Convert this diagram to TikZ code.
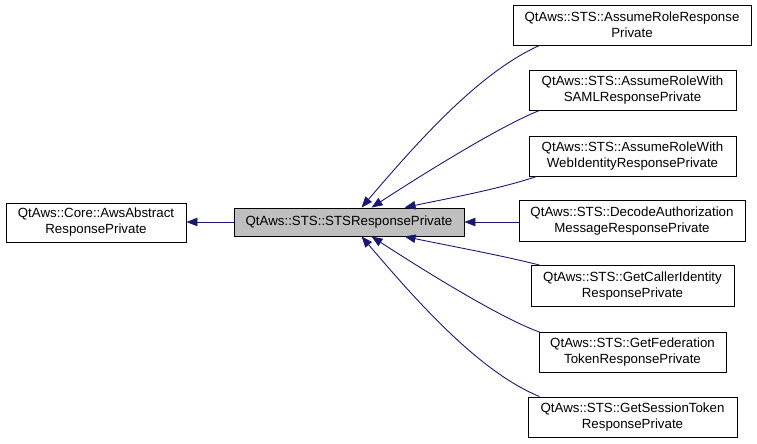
\documentclass[tikz,border=0pt]{standalone}
\usepackage{fontspec}
\setmainfont{Liberation Sans}
\usetikzlibrary{arrows.meta}
\definecolor{edgeblue}{HTML}{191970}
\definecolor{boxgray}{HTML}{BFBFBF}
\tikzset{
  box/.style={draw=black, line width=0.9pt, fill=white, rectangle, inner sep=0pt, align=center,
    font=\fontsize{13.3}{16}\selectfont},
  edge/.style={draw=edgeblue, line width=0.9pt, -{Triangle[length=11pt,width=8.5pt]}}
}
\begin{document}
\begin{tikzpicture}[x=1pt,y=-1pt]
\useasboundingbox (0,0) rectangle (757,444);
\node[box, minimum width=180pt, minimum height=39pt] (l) at (96,222.5) {QtAws::Core::AwsAbstract\\ResponsePrivate};
\node[box, fill=boxgray, minimum width=230pt, minimum height=28pt] (c) at (349,222) {QtAws::STS::STSResponsePrivate};
\node[box, minimum width=238pt, minimum height=40pt] (r1) at (632,25) {QtAws::STS::AssumeRoleResponse\\Private};
\node[box, minimum width=207pt, minimum height=40pt] (r2) at (632.5,90) {QtAws::STS::AssumeRoleWith\\SAMLResponsePrivate};
\node[box, minimum width=207pt, minimum height=40pt] (r3) at (632.5,156) {QtAws::STS::AssumeRoleWith\\WebIdentityResponsePrivate};
\node[box, minimum width=226pt, minimum height=41pt] (r4) at (632,221) {QtAws::STS::DecodeAuthorization\\MessageResponsePrivate};
\node[box, minimum width=203pt, minimum height=41pt] (r5) at (632.5,286) {QtAws::STS::GetCallerIdentity\\ResponsePrivate};
\node[box, minimum width=187pt, minimum height=40pt] (r6) at (632.5,352.5) {QtAws::STS::GetFederation\\TokenResponsePrivate};
\node[box, minimum width=209pt, minimum height=40pt] (r7) at (632.5,417) {QtAws::STS::GetSessionToken\\ResponsePrivate};
\draw[edge] (c.west) -- (c.west -| l.east);
\draw[edge] ([xshift=27pt]r1.south west) .. controls (480,72) and (420,139) .. ([xshift=128pt]c.north west);
\draw[edge] ([xshift=11pt]r2.south west) .. controls (500,126) and (420,176) .. ([xshift=138pt]c.north west);
\draw[edge] ([xshift=8pt]r3.south west) .. controls (500,189) and (445,199) .. ([xshift=171pt]c.north west);
\draw[edge] (r4.west |- c.east) -- (c.east);
\draw[edge] ([xshift=9pt]r5.north west) .. controls (500,255) and (445,245) .. ([xshift=171pt]c.south west);
\draw[edge] ([xshift=1pt]r6.north west) .. controls (500,318) and (420,268) .. ([xshift=138pt]c.south west);
\draw[edge] ([xshift=12pt]r7.north west) .. controls (480,372) and (420,305) .. ([xshift=128pt]c.south west);
\end{tikzpicture}
\end{document}
